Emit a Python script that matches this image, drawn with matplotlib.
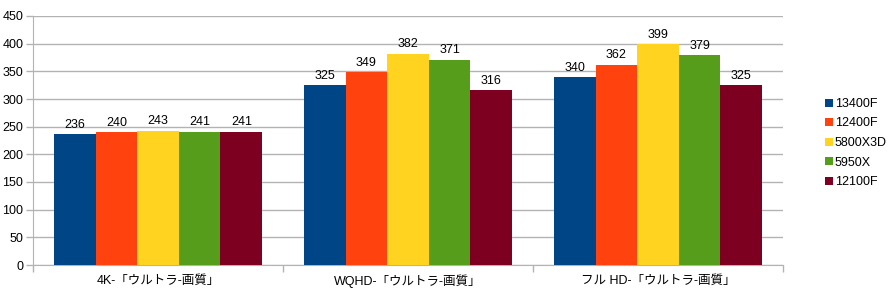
import matplotlib
matplotlib.use("Agg")
import matplotlib.pyplot as plt
import numpy as np
from matplotlib.patches import Patch

plt.rcParams['font.family'] = ['Liberation Sans', 'Noto Sans CJK JP', 'DejaVu Sans']

categories = ["4K-「ウルトラ-画質」", "WQHD-「ウルトラ-画質」", "フル HD-「ウルトラ-画質」"]
series_names = ["13400F", "12400F", "5800X3D", "5950X", "12100F"]
values_13400F = [236, 325, 340]
values_12400F = [240, 349, 362]
values_5800X3D = [243, 382, 399]
values_5950X = [241, 371, 379]
values_12100F = [241, 316, 325]
series_values = [values_13400F, values_12400F, values_5800X3D, values_5950X, values_12100F]
colors = ["#004586", "#ff420e", "#ffd320", "#579d1c", "#7e0021"]
yticks = list(range(0, 451, 50))

fig = plt.figure(figsize=(8.88, 2.96), dpi=100)
ax = fig.add_axes([33/888, 1-265/296, 750/888, 249/296])

x = np.arange(len(categories))
n = len(series_names)
bw = 0.8333 / n
for i, (name, vals, c) in enumerate(zip(series_names, series_values, colors)):
    pos = x - 0.8333/2 + bw*(i+0.5)
    ax.bar(pos, vals, width=bw, color=c, label=name, zorder=3)
    for p, v in zip(pos, vals):
        ax.text(p, v + 6, str(v), ha='center', va='bottom', fontsize=9, color='#000000', zorder=4)

ax.set_xlim(-0.5, len(categories) - 0.5)
ax.set_ylim(0, 450)
ax.set_yticks(yticks)
ax.tick_params(axis='y', labelsize=9, length=5, color='#b3b3b3', width=1, pad=2)
ax.yaxis.grid(True, color='#b3b3b3', linewidth=1, zorder=0)
ax.set_axisbelow(True)

ax.set_xticks(np.arange(-0.5, len(categories)), minor=False)
ax.set_xticklabels([])
ax.tick_params(axis='x', which='major', length=5, color='#b3b3b3', width=1)
ax.set_xticks(x, minor=True)
ax.set_xticklabels(categories, minor=True)
ax.tick_params(axis='x', which='minor', length=0, labelsize=9, pad=7)

for s in ['top', 'right']:
    ax.spines[s].set_visible(False)
for s in ['left', 'bottom']:
    ax.spines[s].set_color('#b3b3b3')

handles = [Patch(facecolor=c, label=nm) for nm, c in zip(series_names, colors)]
fig.legend(handles=handles, loc='center left', bbox_to_anchor=(820/888, 1-143/296),
           frameon=False, fontsize=9, handlelength=0.6, handleheight=0.6,
           handletextpad=0.2, labelspacing=0.6, borderaxespad=0)

fig.savefig("out.png", dpi=100)
